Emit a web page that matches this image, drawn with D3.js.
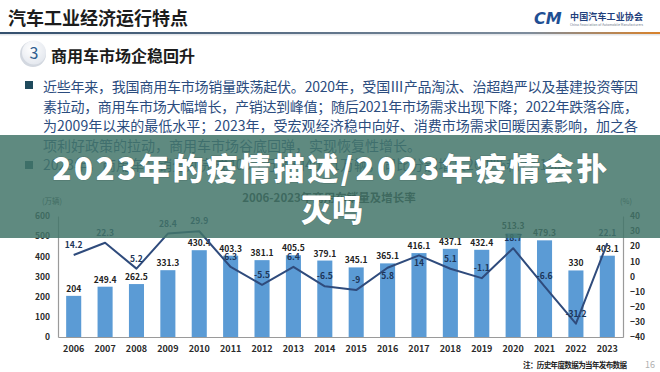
<!DOCTYPE html>
<html>
<head>
<meta charset="utf-8">
<script src="https://cdn.jsdelivr.net/npm/d3@7"></script>
<style>
  html, body { margin: 0; padding: 0; background: #fff; }
  svg { display: block; font-family: "Noto Sans CJK SC", "Noto Sans", sans-serif; }
</style>
</head>
<body>
<svg id="chart" width="660" height="372"></svg>
<script>
// 2006-2023 commercial vehicle sales (10k units) and growth rate (%)
const years = ['2006', '2007', '2008', '2009', '2010', '2011', '2012', '2013', '2014',
               '2015', '2016', '2017', '2018', '2019', '2020', '2021', '2022', '2023'];
const sales = [204, 249.4, 262.5, 331.3, 430.4, 403.3, 381.1, 405.5, 379.1,
               345.1, 365.1, 416.1, 437.1, 432.4, 513.3, 479.3, 330, 403.1];
const growth = [14.2, 22.3, 5.2, 28.4, 29.9, 6.3, -5.5, 6.4, -6.5,
                -9, 5.8, 14, 5.1, -1.1, 18.7, -6.6, -31.2, 22.1];
const salesTicks = [0, 100, 200, 300, 400, 500, 600];
const growthTicks = [-40, -30, -20, -10, 0, 10, 20, 30, 40];
const growthLabelsBelow = ['2016', '2017'];

const bodyLines = [
    '近些年来，我国商用车市场销量跌荡起伏。2020年，受国Ⅲ产品淘汰、治超趋严以及基建投资等因',
    '素拉动，商用车市场大幅增长，产销达到峰值；随后2021年市场需求出现下降；2022年跌落谷底，',
    '为2009年以来的最低水平；2023年，受宏观经济稳中向好、消费市场需求回暖因素影响，加之各',
    '项利好政策的拉动，商用车市场谷底回弹，实现恢复性增长。',
    '2023年，商用车产销分别完成403.7万辆和403.1万辆，同比分别增长26.8%和22.1%。'
];

(function() {
    const svg = d3.select('#chart');
    const width = 660;

    const defs = svg.append('defs');
    const rule = defs.append('linearGradient').attr('id', 'rule-grad')
        .attr('x1', '0%').attr('x2', '100%').attr('y1', '0%').attr('y2', '0%');
    rule.append('stop').attr('offset', '0%').attr('stop-color', '#34506e');
    rule.append('stop').attr('offset', '80%').attr('stop-color', '#7d8c9c');
    rule.append('stop').attr('offset', '100%').attr('stop-color', '#d9822b');

    const ball = defs.append('radialGradient').attr('id', 'ball-grad')
        .attr('cx', '40%').attr('cy', '35%').attr('r', '70%');
    ball.append('stop').attr('offset', '0%').attr('stop-color', '#ffffff');
    ball.append('stop').attr('offset', '100%').attr('stop-color', '#e3e7ee');

    // header
    svg.append('text')
        .attr('x', 8).attr('y', 25)
        .attr('font-size', 18).attr('font-weight', 700).attr('fill', '#1c1c1c')
        .text('汽车工业经济运行特点');

    svg.append('rect')
        .attr('x', 0).attr('y', 32).attr('width', width).attr('height', 2)
        .attr('fill', 'url(#rule-grad)');
    svg.append('rect')
        .attr('x', 0).attr('y', 34).attr('width', width).attr('height', 1.5)
        .attr('fill', '#e3e6ea');

    // logo
    svg.append('text')
        .attr('x', 534).attr('y', 24)
        .attr('font-size', 16).attr('font-weight', 900).attr('font-style', 'italic')
        .attr('fill', '#1f4f93').attr('font-family', 'DejaVu Sans')
        .text('CM');
    svg.append('text')
        .attr('x', 570).attr('y', 20)
        .attr('font-size', 9).attr('font-weight', 700).attr('fill', '#1f3f7c')
        .attr('textLength', 73).attr('lengthAdjust', 'spacing')
        .text('中国汽车工业协会');
    svg.append('text')
        .attr('x', 570).attr('y', 26)
        .attr('font-size', 3.2).attr('fill', '#6d7a8c')
        .attr('textLength', 73)
        .text('China Association of Automobile Manufacturers');

    // section heading
    svg.append('circle').attr('cx', 33).attr('cy', 54).attr('r', 13).attr('fill', '#d3d8e0');
    svg.append('circle').attr('cx', 34).attr('cy', 52.5).attr('r', 12).attr('fill', 'url(#ball-grad)');
    svg.append('text')
        .attr('x', 34).attr('y', 58.5).attr('text-anchor', 'middle')
        .attr('font-size', 16).attr('fill', '#2f5d8f')
        .text('3');
    svg.append('text')
        .attr('x', 51).attr('y', 62)
        .attr('font-size', 16).attr('font-weight', 700).attr('fill', '#1c1c1c')
        .text('商用车市场企稳回升');

    // body text
    const body = svg.append('g').attr('font-size', 14).attr('fill', '#2b4c7e');
    bodyLines.forEach((line, i) => {
        const t = body.append('text')
            .attr('x', 43).attr('y', 92 + i * 19.5)
            .text(line);
        if (i < 3) t.attr('textLength', 595).attr('lengthAdjust', 'spacing');
    });
    body.append('rect').attr('x', 25).attr('y', 81).attr('width', 8).attr('height', 8).attr('fill', '#1f4a5c');
    body.append('rect').attr('x', 25).attr('y', 161).attr('width', 8).attr('height', 8).attr('fill', '#1f4a5c');

    // chart
    const x = d3.scaleBand()
        .domain(years)
        .range([58, 623])
        .paddingInner(0.52)
        .paddingOuter(0.26);
    const yL = d3.scaleLinear().domain([0, 600]).range([337, 216]);
    const yR = d3.scaleLinear().domain([-40, 40]).range([337, 216]);
    const cx = d => x(d) + x.bandwidth() / 2;

    const chart = svg.append('g');

    chart.append('text')
        .attr('x', 329).attr('y', 202).attr('text-anchor', 'middle')
        .attr('font-size', 11.5).attr('font-weight', 700).attr('fill', '#222')
        .text('2006-2023年商用车销量及增长率');
    chart.append('text')
        .attr('x', 42).attr('y', 204)
        .attr('font-size', 7.5).attr('fill', '#333')
        .text('(万辆)');
    chart.append('text')
        .attr('x', 620).attr('y', 204)
        .attr('font-size', 7.5).attr('fill', '#333')
        .text('(%)');

    // axes
    const axisL = chart.append('g')
        .attr('transform', 'translate(58,0)')
        .call(d3.axisLeft(yL).tickValues(salesTicks).tickSize(0).tickPadding(8));
    const axisR = chart.append('g')
        .attr('transform', 'translate(623,0)')
        .call(d3.axisRight(yR).tickValues(growthTicks).tickSize(0).tickPadding(7));
    const axisB = chart.append('g')
        .attr('transform', 'translate(0,337)')
        .call(d3.axisBottom(x).tickSize(0).tickPadding(7));

    [axisL, axisR, axisB].forEach(g => {
        g.select('.domain').attr('stroke', '#9a9a9a').attr('stroke-width', 1.2);
        g.selectAll('text')
            .attr('font-size', 8.5).attr('font-weight', 700).attr('fill', '#2a2a2a')
            .attr('font-family', '"Noto Sans CJK SC", sans-serif');
    });
    axisB.selectAll('text').attr('font-size', 9).attr('dy', '0.9em');

    // bars
    chart.append('g').selectAll('rect')
        .data(years)
        .join('rect')
        .attr('x', d => x(d))
        .attr('y', (d, i) => yL(sales[i]))
        .attr('width', x.bandwidth())
        .attr('height', (d, i) => yL(0) - yL(sales[i]))
        .attr('fill', '#5b9bd5');

    chart.append('g').selectAll('text')
        .data(years)
        .join('text')
        .attr('x', d => cx(d))
        .attr('y', (d, i) => yL(sales[i]) - 4)
        .attr('text-anchor', 'middle')
        .attr('font-size', 8.5).attr('font-weight', 700).attr('fill', '#222')
        .text((d, i) => sales[i]);

    // growth line
    const line = d3.line()
        .x((d, i) => cx(years[i]))
        .y(d => yR(d));
    chart.append('path')
        .datum(growth)
        .attr('d', line)
        .attr('fill', 'none')
        .attr('stroke', '#2f4b7c')
        .attr('stroke-width', 2)
        .attr('stroke-linejoin', 'round');

    chart.append('g').selectAll('text')
        .data(years)
        .join('text')
        .attr('x', d => cx(d))
        .attr('y', (d, i) => growthLabelsBelow.includes(d) ? yR(growth[i]) + 11 : yR(growth[i]) - 7)
        .attr('text-anchor', 'middle')
        .attr('font-size', 8.5).attr('font-weight', 700).attr('fill', '#1d3558')
        .text((d, i) => growth[i]);

    // footnote and page number
    svg.append('text')
        .attr('x', 523).attr('y', 368)
        .attr('font-size', 7.5).attr('font-weight', 700).attr('fill', '#222')
        .attr('textLength', 104).attr('lengthAdjust', 'spacing')
        .text('注：历史年度数据为当年发布数据');
    svg.append('text')
        .attr('x', 645).attr('y', 368)
        .attr('font-size', 9).attr('fill', '#b0b0b0')
        .text('16');

    // overlay banner
    svg.append('rect')
        .attr('x', 0).attr('y', 135).attr('width', width).attr('height', 103)
        .attr('fill', 'rgb(67,117,106)').attr('opacity', 0.85);

    const banner = svg.append('g')
        .attr('fill', '#fff').attr('font-weight', 900).attr('font-size', 31)
        .attr('text-anchor', 'middle')
        .style('paint-order', 'stroke')
        .attr('stroke', 'rgba(0,0,0,0.12)').attr('stroke-width', 1.5);
    banner.append('text')
        .attr('x', 330).attr('y', 180)
        .attr('textLength', 555).attr('lengthAdjust', 'spacing')
        .text('2023年的疫情描述/2023年疫情会扑');
    banner.append('text')
        .attr('x', 332).attr('y', 221)
        .text('灭吗');
})();
</script>
</body>
</html>
